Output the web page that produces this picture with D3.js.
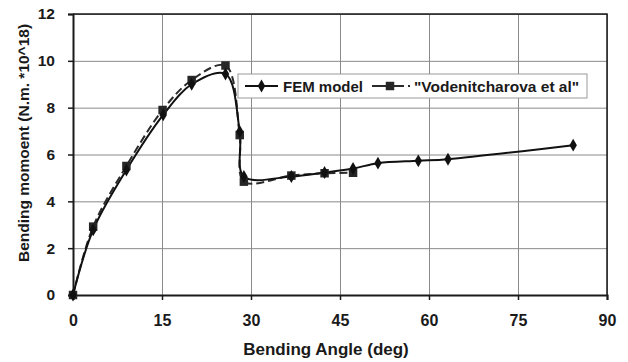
<!DOCTYPE html>
<html>
<head>
<meta charset="utf-8">
<script src="https://cdn.jsdelivr.net/npm/d3@7"></script>
<style>
  body { margin: 0; background: #fff; }
  svg text { font-family: "Liberation Sans", Arial, sans-serif; font-weight: bold; fill: #1a1a1a; }
  .grid line { stroke: #8a8a8a; stroke-width: 1; }
  .grid .domain { display: none; }
</style>
</head>
<body>
<svg id="chart" width="628" height="362"></svg>
<script>
// bending angle (deg) / moment values
var femAngle = [0, 3.4, 9.0, 15.2, 20.0, 25.7, 28.1, 28.8, 36.8, 42.4, 47.2, 51.4, 58.2, 63.2, 84.3];
var femMoment = [0, 2.78, 5.34, 7.69, 9.0, 9.44, 6.98, 5.06, 5.06, 5.23, 5.4, 5.63, 5.73, 5.8, 6.4];

var vodAngle = [0, 3.4, 9.0, 15.1, 20.0, 25.7, 28.1, 28.8, 36.8, 42.4, 47.2];
var vodMoment = [0, 2.92, 5.51, 7.9, 9.18, 9.8, 6.83, 4.84, 5.1, 5.2, 5.22];

var xTicks = [0, 15, 30, 45, 60, 75, 90];
var yTicks = [0, 2, 4, 6, 8, 10, 12];
var seriesNames = ["FEM model", "\"Vodenitcharova et al\""];

var margin = {top: 14, left: 73, right: 21, bottom: 67};
var width = 628 - margin.left - margin.right,
    height = 362 - margin.top - margin.bottom;

var svg = d3.select("#chart");
var g = svg.append("g").attr("transform", "translate(" + margin.left + "," + margin.top + ")");

var x = d3.scaleLinear().domain([0, 90]).range([0, width]);
var y = d3.scaleLinear().domain([0, 12]).range([height, 0]);

// gridlines
g.append("g")
    .attr("class", "grid")
    .call(d3.axisLeft(y).tickValues(yTicks).tickSize(-width).tickFormat(""));
g.append("g")
    .attr("class", "grid")
    .attr("transform", "translate(0," + height + ")")
    .call(d3.axisBottom(x).tickValues(xTicks).tickSize(-height).tickFormat(""));

// plot border (top + right)
g.append("path")
    .attr("d", "M0,0H" + width + "V" + height)
    .attr("fill", "none")
    .attr("stroke", "#1a1a1a")
    .attr("stroke-width", 1.5);

// axes
var xAxis = g.append("g")
    .attr("transform", "translate(0," + height + ")")
    .call(d3.axisBottom(x).tickValues(xTicks).tickSize(5).tickPadding(15));
var yAxis = g.append("g")
    .call(d3.axisLeft(y).tickValues(yTicks).tickSize(5).tickPadding(13));

[xAxis, yAxis].forEach(function (a) {
    a.select(".domain").attr("stroke", "#1a1a1a").attr("stroke-width", 2);
    a.selectAll(".tick line").attr("stroke", "#1a1a1a").attr("stroke-width", 1.5);
    a.selectAll(".tick text").attr("fill", "#1a1a1a");
});
xAxis.selectAll(".tick text").style("font-size", "16px");
yAxis.selectAll(".tick text").style("font-size", "15.5px");

// titles
svg.append("text")
    .attr("x", 326)
    .attr("y", 355)
    .attr("text-anchor", "middle")
    .style("font-size", "17px")
    .text("Bending Angle (deg)");

svg.append("text")
    .attr("transform", "translate(29,143) rotate(-90)")
    .attr("text-anchor", "middle")
    .style("font-size", "15.5px")
    .text("Bending momoent (N.m. *10^18)");

var line = d3.line().curve(d3.curveCatmullRom.alpha(0.5));

var fem = femAngle.map(function (a, i) { return [x(a), y(femMoment[i])]; });
var vod = vodAngle.map(function (a, i) { return [x(a), y(vodMoment[i])]; });

g.append("path")
    .attr("d", line(vod))
    .attr("fill", "none")
    .attr("stroke", "#2a2a2a")
    .attr("stroke-width", 2)
    .attr("stroke-dasharray", "8,4");

g.append("path")
    .attr("d", line(fem))
    .attr("fill", "none")
    .attr("stroke", "#111")
    .attr("stroke-width", 2);

var square = d3.symbol().type(d3.symbolSquare).size(72);
var diamond = d3.symbol().type(d3.symbolDiamond).size(48);

g.selectAll(".sq")
    .data(vod)
    .enter().append("path")
    .attr("class", "sq")
    .attr("d", square)
    .attr("transform", function (d) { return "translate(" + d[0] + "," + d[1] + ")"; })
    .attr("fill", "#262626");

g.selectAll(".dm")
    .data(fem)
    .enter().append("path")
    .attr("class", "dm")
    .attr("d", diamond)
    .attr("transform", function (d) { return "translate(" + d[0] + "," + d[1] + ")"; })
    .attr("fill", "#111");

// legend
var lg = svg.append("g").attr("transform", "translate(238,74)");
lg.append("rect")
    .attr("width", 349).attr("height", 24)
    .attr("fill", "#fff")
    .attr("stroke", "#999").attr("stroke-width", 1);

lg.append("line").attr("x1", 7).attr("x2", 40).attr("y1", 12).attr("y2", 12)
    .attr("stroke", "#111").attr("stroke-width", 2);
lg.append("path").attr("d", diamond).attr("transform", "translate(23.5,12)").attr("fill", "#111");
lg.append("text").attr("x", 45).attr("y", 17.5).style("font-size", "15px").text(seriesNames[0]);

lg.append("line").attr("x1", 134).attr("x2", 172).attr("y1", 12).attr("y2", 12)
    .attr("stroke", "#2a2a2a").attr("stroke-width", 2).attr("stroke-dasharray", "14,4");
lg.append("path").attr("d", square).attr("transform", "translate(152,12)").attr("fill", "#262626");
lg.append("text").attr("x", 176).attr("y", 17.5).style("font-size", "15.5px").text(seriesNames[1]);
</script>
</body>
</html>
